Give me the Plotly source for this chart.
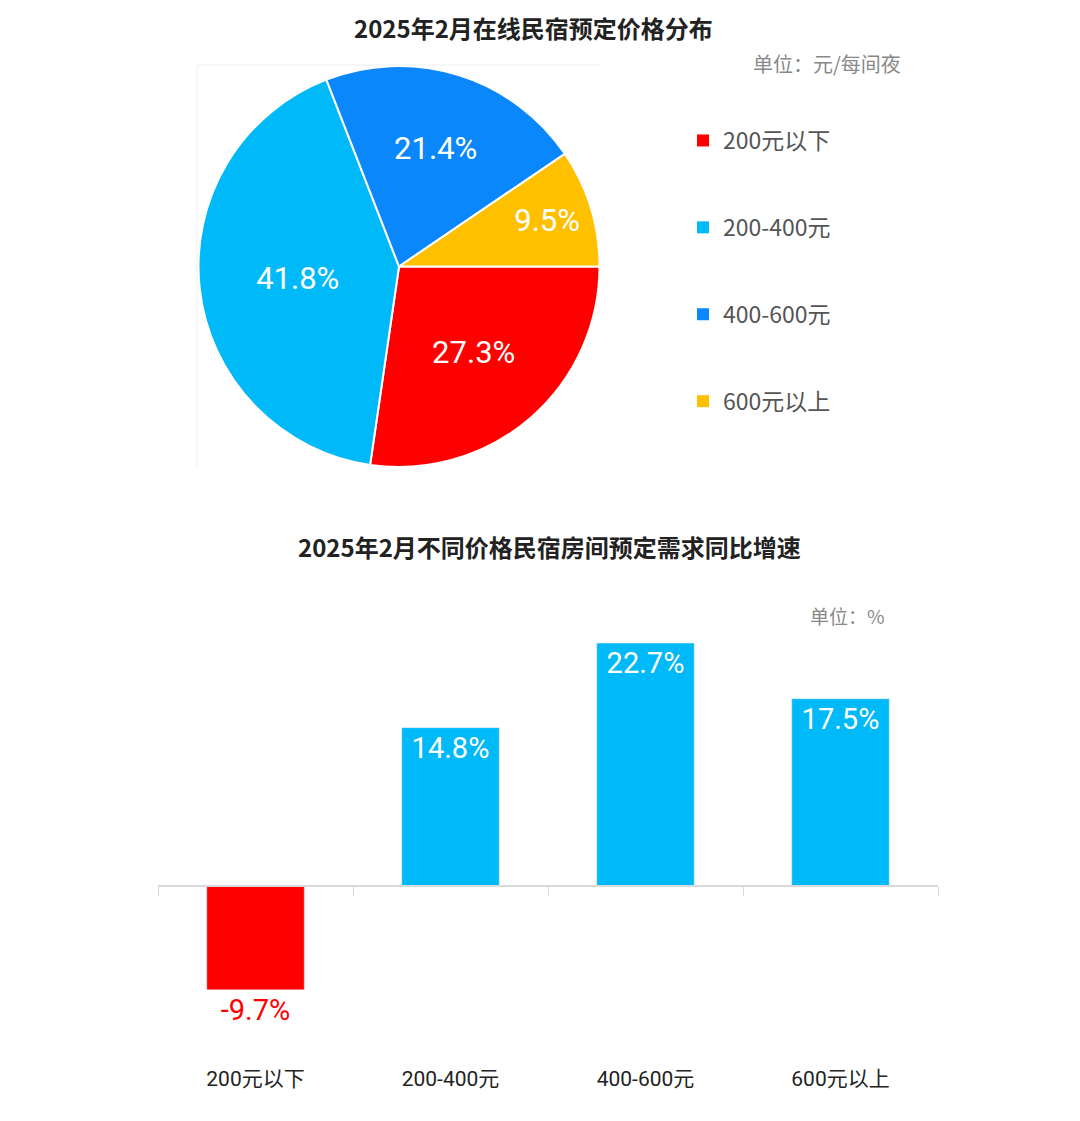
import plotly.graph_objects as go

# ---- data ----
price_bands = ["200元以下", "200-400元", "400-600元", "600元以上"]
share_pct = [27.3, 41.8, 21.4, 9.5]          # pie, % of bookings
growth_pct = [-9.7, 14.8, 22.7, 17.5]         # bar, YoY growth %

pie_colors = ["#FF0000", "#00B9F8", "#0A87FA", "#FFC000"]
bar_colors = ["#FF0000", "#00B9F8", "#00B9F8", "#00B9F8"]

title_top = "2025年2月在线民宿预定价格分布"
title_bottom = "2025年2月不同价格民宿房间预定需求同比增速"
unit_top = "单位：元/每间夜"
unit_bottom = "单位：%"

W, H = 1080, 1121
PAGE_PAD = 8  # body margin of the html page
CJK = "Noto Sans CJK SC"
NUM = "Roboto, " + CJK


# screen pixel -> paper fraction
def fx(px):
    return (px - PAGE_PAD) / W


def fy(px):
    return 1 - (px - PAGE_PAD) / H


fig = go.Figure()

# pie (top)
fig.add_trace(go.Pie(
    labels=price_bands, values=share_pct, sort=False,
    direction="clockwise", rotation=90,
    marker=dict(colors=pie_colors, line=dict(color="white", width=2)),
    texttemplate="%{percent:.1%}", textposition="inside",
    insidetextorientation="horizontal",
    textfont=dict(family=NUM, size=31, color="white"),
    domain=dict(x=[fx(198), fx(600)], y=[fy(467), fy(66)]),
    showlegend=False, hoverinfo="label+percent",
))

# legend entries for the pie, one group each so they can be spaced out
for name, col in zip(price_bands, pie_colors):
    fig.add_trace(go.Scatter(
        x=[None], y=[None], mode="markers", name=name, legendgroup=name,
        xaxis="x2", yaxis="y2",
        marker=dict(symbol="square", size=12, color=col),
    ))

# bars (bottom)
fig.add_trace(go.Bar(
    x=price_bands, y=growth_pct, marker_color=bar_colors, width=0.5,
    texttemplate="%{y:.1f}%",
    textposition=["outside" if v < 0 else "inside" for v in growth_pct],
    insidetextanchor="end", cliponaxis=False,
    insidetextfont=dict(family=NUM, size=29, color="white"),
    outsidetextfont=dict(family=NUM, size=29, color="#FF0000"),
    showlegend=False,
))

zero_px = 886
scale = 10.7  # px per unit
y_lo, y_hi = -12, 24

fig.update_layout(
    width=W, height=H,
    margin=dict(l=0, r=0, t=0, b=0),
    paper_bgcolor="white", plot_bgcolor="white",
    font=dict(family=CJK, color="#333"),
    showlegend=True,
    legend=dict(x=fx(683), y=fy(119), xanchor="left", yanchor="top",
                tracegroupgap=54, font=dict(family=CJK, size=23, color="#555")),
    xaxis=dict(type="category", domain=[fx(158), fx(938)], anchor="free",
               position=fy(zero_px), automargin=False,
               showline=True, linecolor="#d9d9d9", linewidth=2,
               ticks="outside", tickson="boundaries", ticklen=9,
               tickcolor="#d9d9d9", tickwidth=1,
               showgrid=False, ticklabelstandoff=174,
               tickfont=dict(family=NUM, size=21, color="#222")),
    yaxis=dict(domain=[fy(zero_px - y_lo * scale), fy(zero_px - y_hi * scale)],
               range=[y_lo, y_hi], visible=False, automargin=False),
    xaxis2=dict(visible=False, domain=[0.99, 1], anchor="y2", automargin=False),
    yaxis2=dict(visible=False, domain=[0.99, 1], anchor="x2", automargin=False),
    bargap=0.5,
    annotations=[
        dict(text="<b>%s</b>" % title_top, x=fx(533), y=1, yanchor="top",
             xref="paper", yref="paper",
             showarrow=False, font=dict(family=CJK, size=24, color="#222")),
        dict(text="<b>%s</b>" % title_bottom, x=fx(549), y=fy(546), yanchor="middle",
             xref="paper", yref="paper",
             showarrow=False, font=dict(family=CJK, size=24, color="#222")),
        dict(text=unit_top, x=fx(903), y=fy(63), yanchor="middle", xref="paper", yref="paper",
             xanchor="right", showarrow=False, font=dict(family=CJK, size=20, color="#888")),
        dict(text=unit_bottom, x=fx(887), y=fy(615), yanchor="middle", xref="paper", yref="paper",
             xanchor="right", showarrow=False, font=dict(family=CJK, size=19, color="#888")),
    ],
    shapes=[
        dict(type="line", xref="paper", yref="paper", x0=fx(197), x1=fx(600),
             y0=fy(65), y1=fy(65), line=dict(color="#eeeeee", width=1)),
        dict(type="line", xref="paper", yref="paper", x0=fx(197), x1=fx(197),
             y0=fy(65), y1=fy(467), line=dict(color="#eeeeee", width=1)),
    ],
)

fig.write_html("out.html")
